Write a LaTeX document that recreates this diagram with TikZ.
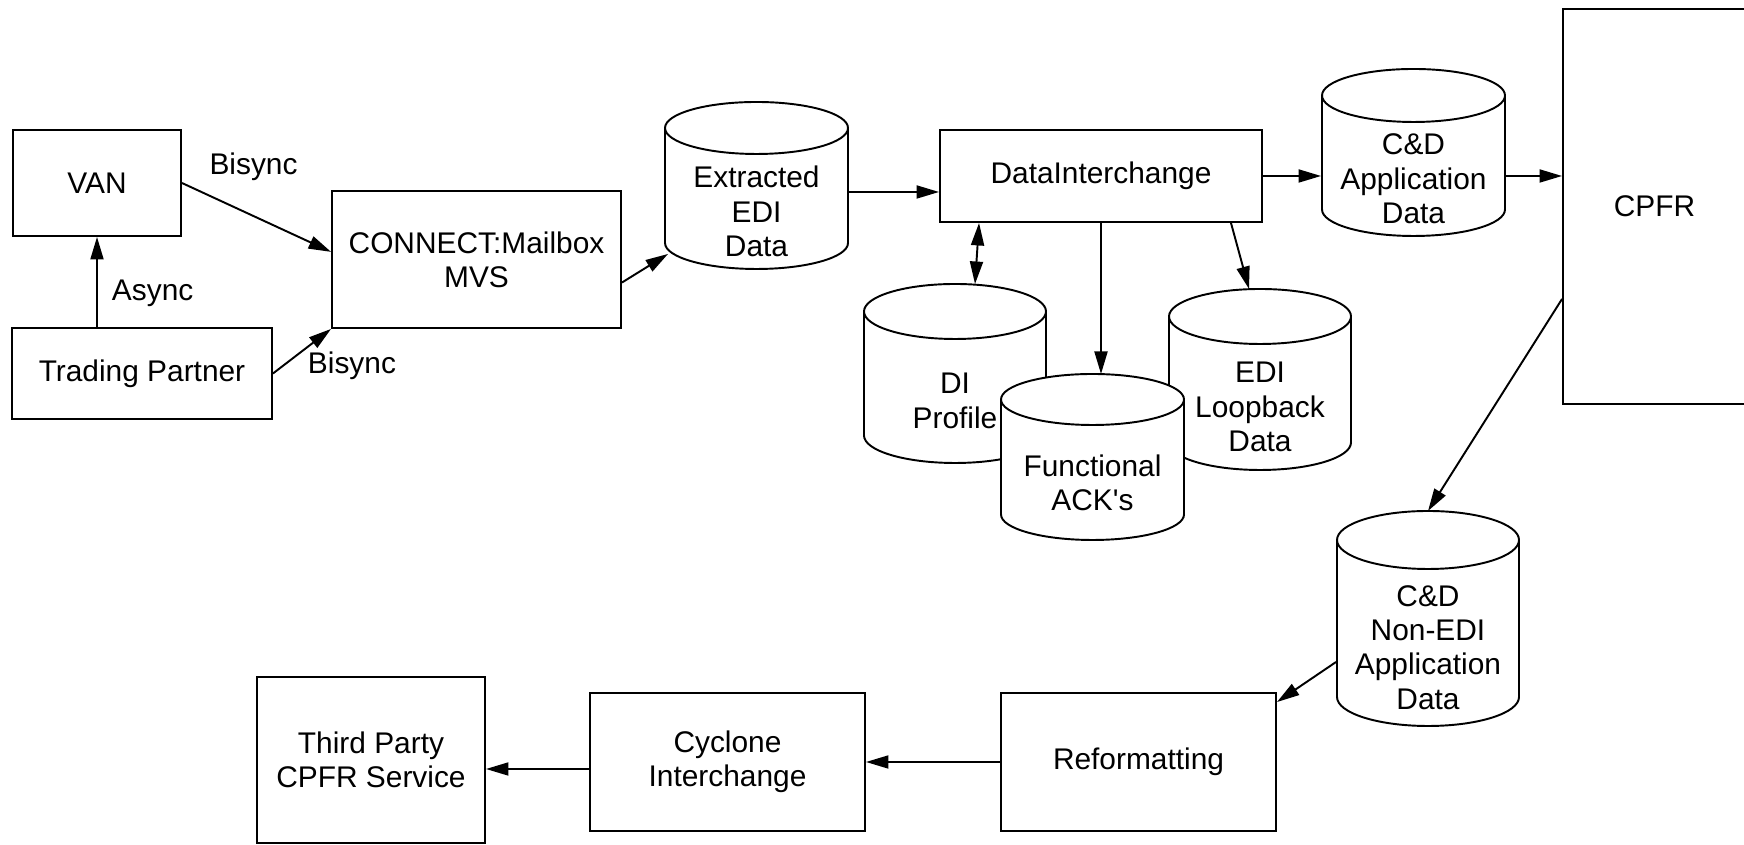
\documentclass[tikz,border=0pt]{standalone}
\usepackage{fontspec}
\setmainfont{Liberation Sans}
\usetikzlibrary{calc}
\usetikzlibrary{arrows.meta}
\usetikzlibrary{positioning}

\newcommand{\dbcyl}[7]{%
    \draw[fill=white] (#2-#4,#3+#5+#6) -- (#2-#4,#3-#5+#6) arc (180:360:#4 and #6)
        -- (#2+#4,#3+#5+#6) arc (0:180:#4 and #6) -- cycle;
    \draw (#2-#4,#3+#5+#6) arc (180:360:#4 and #6);
    \node[dbtext, minimum width=2*#4cm, minimum height=2*#5cm] (#1) at (#2,#3) {#7};
    \coordinate (#1-top) at (#2,#3+#5+2*#6);
}

\begin{document}
\begin{tikzpicture}[font=\fontsize{17}{19.5}\selectfont, line width=1.1pt,
    box/.style={draw, rectangle, align=center, inner sep=0pt},
    dbtext/.style={rectangle, align=center, inner sep=0pt},
    arr/.style={-{Triangle[length=0.45cm,width=0.26cm]}},
    dbl/.style={{Triangle[length=0.45cm,width=0.26cm]}-{Triangle[length=0.45cm,width=0.26cm]}},
    lbl/.style={inner sep=0pt}]
    \useasboundingbox (0,0) rectangle (34.88,16.9);
    \clip (0,0) rectangle (34.88,16.9);

    \node[box, minimum width=3.36cm, minimum height=2.12cm] (van) at (1.94,13.24) {VAN};
    \node[box, minimum width=5.2cm, minimum height=1.82cm] (tp) at (2.84,9.43) {Trading Partner};
    \node[box, minimum width=5.78cm, minimum height=2.74cm] (mbox) at (9.53,11.71) {CONNECT:Mailbox\\MVS};
    \node[box, minimum width=6.44cm, minimum height=1.84cm] (di) at (22.02,13.38) {DataInterchange};
    \node[box, minimum width=3.66cm, minimum height=7.9cm] (cpfr) at (33.09,12.77) {CPFR};
    \node[box, minimum width=5.5cm, minimum height=2.76cm] (refmt) at (22.77,1.66) {Reformatting};
    \node[box, minimum width=5.5cm, minimum height=2.76cm] (cyc) at (14.55,1.66) {Cyclone\\Interchange};
    \node[box, minimum width=4.56cm, minimum height=3.32cm] (third) at (7.42,1.7) {Third Party\\CPFR Service};

    \dbcyl{ext}{15.13}{12.67}{1.83}{1.15}{0.52}{Extracted\\EDI\\Data}
    \dbcyl{app}{28.27}{13.32}{1.83}{1.14}{0.53}{C\&D\\Application\\Data}
    \dbcyl{prof}{19.1}{8.88}{1.82}{1.24}{0.55}{DI\\Profile}
    \dbcyl{loop}{25.2}{8.76}{1.82}{1.26}{0.55}{EDI\\Loopback\\Data}
    \dbcyl{ack}{21.85}{7.25}{1.83}{1.15}{0.51}{Functional\\ACK\textquotesingle s}
    \dbcyl{ned}{28.56}{3.95}{1.82}{1.57}{0.58}{C\&D\\Non-EDI\\Application\\Data}

    \coordinate (dia) at ([yshift=-0.32cm]di.west);

    \draw[arr] (tp.north -| van.south) -- (van.south) node[lbl, right=0.28cm, pos=0.37] (async) {Async};
    \draw[arr] (van.east) -- (mbox.177) node[lbl, above=0.68cm, pos=0.48] (bis1) {Bisync};
    \draw[arr] (tp.east) -- (mbox.south west) node[lbl, anchor=north west, pos=0.5, xshift=0.1cm] (bis2) {Bisync};
    \draw[arr] (mbox.-9) -- ([shift={(0.08,0.32)}]ext.south west);
    \draw[arr] (ext.east |- dia) -- (dia);
    \draw[dbl] ([xshift=0.8cm]di.south west) -- ([xshift=0.4cm]prof-top);
    \draw[arr] (di.south) -- (di.south |- ack-top);
    \draw[arr] ([xshift=-0.64cm]di.south east) -- ([xshift=-0.22cm]loop-top);
    \draw[arr] (di.east) -- (di.east -| app.west);
    \draw[arr] (di.east -| app.east) -- (di.east -| cpfr.west);
    \draw[arr] (cpfr.225) -- (ned-top);
    \draw[arr] ([yshift=-0.29cm]ned.west) -- ([yshift=-0.2cm]refmt.north east);
    \draw[arr] (refmt.west) -- (cyc.east);
    \draw[arr] ([yshift=-0.14cm]cyc.west) -- ([yshift=-0.14cm]cyc.west -| third.east);
\end{tikzpicture}
\end{document}
